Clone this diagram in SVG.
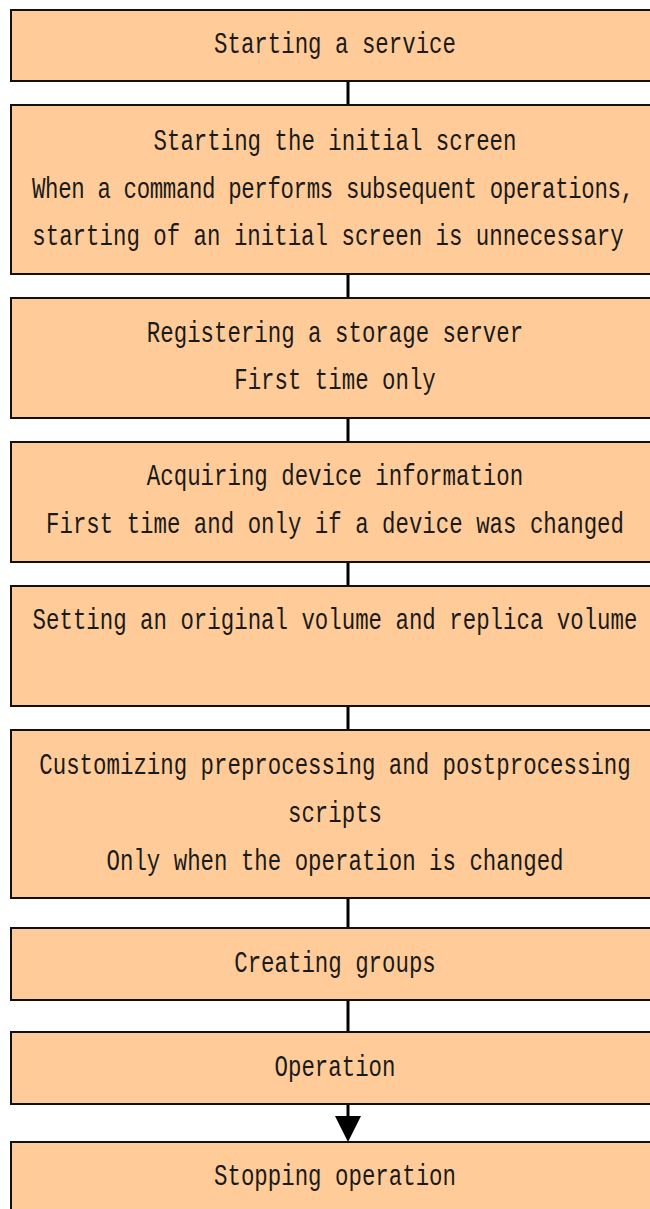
<svg xmlns="http://www.w3.org/2000/svg" width="650" height="1209" viewBox="0 0 650 1209">
<style>
.box{fill:#FFCC99;stroke:#111;stroke-width:2}
.lbl{font-family:"Liberation Mono","DejaVu Sans Mono",monospace;font-size:22.4px;fill:#1a1a1a;text-anchor:middle}
.conn{stroke:#000;stroke-width:3;fill:none}
</style>
<defs>
<marker id="arrow" viewBox="0 0 26 26" refX="26" refY="13" markerWidth="26" markerHeight="26" markerUnits="userSpaceOnUse" orient="auto">
<path d="M0,0 L26,13 L0,26 z" fill="#000"/>
</marker>
</defs>
<g id="connectors">
<line class="conn" x1="348" y1="81" x2="348" y2="105"/>
<line class="conn" x1="348" y1="274" x2="348" y2="298"/>
<line class="conn" x1="348" y1="418" x2="348" y2="442"/>
<line class="conn" x1="348" y1="562" x2="348" y2="586"/>
<line class="conn" x1="348" y1="706" x2="348" y2="730"/>
<line class="conn" x1="348" y1="898" x2="348" y2="928"/>
<line class="conn" x1="348" y1="1000" x2="348" y2="1032"/>
<path class="conn" d="M348,1104 L348,1130"/>
<path d="M348,1104 L348,1142" stroke="none" fill="none" marker-end="url(#arrow)"/>
</g>
<g id="n1">
<rect class="box" x="11" y="10" width="660" height="71"/>
<text class="lbl" transform="translate(335,53) scale(1,1.35)">Starting a service</text>
</g>
<g id="n2">
<rect class="box" x="11" y="105" width="660" height="169"/>
<text class="lbl" transform="translate(335,150) scale(1,1.35)">Starting the initial screen</text>
<text class="lbl" transform="translate(333,198) scale(1,1.35)" textLength="602" lengthAdjust="spacing">When a command performs subsequent operations,</text>
<text class="lbl" transform="translate(328,245) scale(1,1.35)">starting of an initial screen is unnecessary</text>
</g>
<g id="n3">
<rect class="box" x="11" y="298" width="660" height="120"/>
<text class="lbl" transform="translate(335,342) scale(1,1.35)">Registering a storage server</text>
<text class="lbl" transform="translate(335,389) scale(1,1.35)">First time only</text>
</g>
<g id="n4">
<rect class="box" x="11" y="442" width="660" height="120"/>
<text class="lbl" transform="translate(335,485) scale(1,1.35)">Acquiring device information</text>
<text class="lbl" transform="translate(335,533) scale(1,1.35)">First time and only if a device was changed</text>
</g>
<g id="n5">
<rect class="box" x="11" y="586" width="660" height="120"/>
<text class="lbl" transform="translate(335,629) scale(1,1.35)">Setting an original volume and replica volume</text>
</g>
<g id="n6">
<rect class="box" x="11" y="730" width="660" height="168"/>
<text class="lbl" transform="translate(335,774) scale(1,1.35)">Customizing preprocessing and postprocessing</text>
<text class="lbl" transform="translate(335,822) scale(1,1.35)">scripts</text>
<text class="lbl" transform="translate(335,870) scale(1,1.35)">Only when the operation is changed</text>
</g>
<g id="n7">
<rect class="box" x="11" y="928" width="660" height="72"/>
<text class="lbl" transform="translate(335,972) scale(1,1.35)">Creating groups</text>
</g>
<g id="n8">
<rect class="box" x="11" y="1032" width="660" height="72"/>
<text class="lbl" transform="translate(335,1076) scale(1,1.35)">Operation</text>
</g>
<g id="n9">
<rect class="box" x="11" y="1142" width="660" height="90"/>
<text class="lbl" transform="translate(335,1185) scale(1,1.35)">Stopping operation</text>
</g>
</svg>
